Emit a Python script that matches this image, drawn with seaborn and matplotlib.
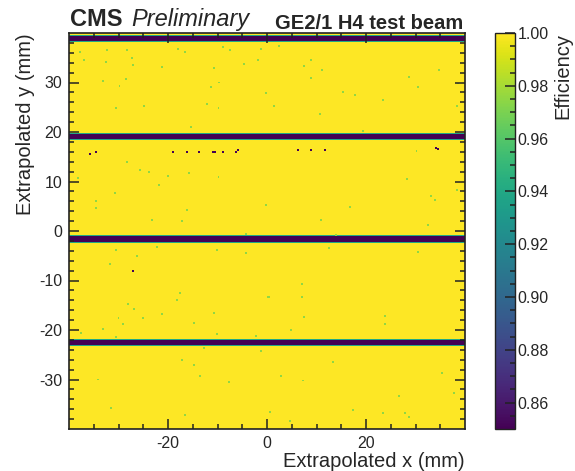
import numpy as np
import pandas as pd
import matplotlib
matplotlib.use("Agg")
import matplotlib.pyplot as plt
import seaborn as sns

# ---------------- data (mm / efficiency) ----------------
x_edges_mm = (-40.0, 40.0)
y_edges_mm = (-40.0, 40.0)
bin_mm = 0.2

# inefficient horizontal gaps between readout sectors
band_center_y = [38.9, 19.15, -1.6, -22.5]
band_half_width = [0.5, 0.5, 0.55, 0.55]
band_eff = [0.80, 0.80, 0.80, 0.80]
band_edge_eff = [0.94, 0.94, 0.94, 0.94]

# dark (inefficient) isolated spots
dead_x = [-36.0, -34.8, -19.2, -16.3, -13.9, -11.2, -10.8, -8.9, -6.4, -5.9,
          6.1, 8.7, 11.7, 34.1, 34.5, -27.2]
dead_y = [15.65, 16.2, 16.2, 16.2, 16.2, 16.2, 16.2, 16.2, 16.2, 16.5,
          16.5, 16.5, 16.5, 17.0, 16.7, -7.9]
dead_eff = 0.80

# slightly inefficient (green) isolated spots
spot_x = [-37.9, -32.5, -28.3, -37.1, -32.7, -27.4, -27.2, -21.4, -18.2, -16.6,
          -8.9, -7.5, -11.0, -4.8, -2.0, -1.2, -33.2, -28.5, -30.0, -25.0,
          -30.7, -11.5, -9.7, -12.3, -9.9, -0.2, -15.5, -28.3, -25.7, -23.8,
          -20.1, -16.0, -9.9, -38.2, -21.8, -31.0, -34.7, -34.7, -16.4, -23.4,
          -17.4, -0.3,
          2.4, 8.6, 7.3, 11.1, 8.7, 15.3, 17.8, 23.2, 1.3, 10.6,
          28.6, 30.4, 34.8, 38.5, 38.3, 19.3, 28.1, 30.1, 38.2, 33.1,
          33.9, 16.6, 10.9, 32.5,
          -30.7, -32.0, -26.3, -22.3, -10.4, -4.4, -4.3, -17.6, -18.4, -28.1,
          -26.9, -30.2, -29.1, -25.1, -21.4, -11.0, -14.9, -33.4, -37.6, -30.7,
          -10.4, -2.4, 0.3, -13.0, -1.4, -17.4, -15.0, -13.7, -7.7, -34.4,
          -31.6, -16.6,
          13.9, 12.5, 30.6, 6.9, 6.9, 0.1, 7.4, 23.7, 23.8, 4.7,
          13.3, 2.6, 7.1, 35.2, 26.4, 37.8, 17.3, 23.2, 27.7, 28.6,
          4.5, 0.5]
spot_y = [36.3, 36.7, 36.7, 34.8, 34.2, 35.1, 33.7, 33.4, 36.9, 36.3,
          37.2, 36.8, 33.1, 33.9, 34.7, 36.9, 30.5, 30.8, 29.4, 25.3,
          24.9, 29.2, 30.2, 25.6, 24.9, 27.8, 21.1, 14.1, 12.5, 12.1,
          11.4, 11.9, 11.2, 10.9, 9.3, 7.7, 6.1, 4.7, 4.2, 2.3,
          2.1, 5.3,
          37.5, 34.8, 33.5, 32.6, 31.1, 28.2, 27.5, 26.5, 25.3, 23.7,
          31.4, 29.1, 32.6, 29.9, 25.3, 20.4, 10.6, 16.3, 8.4, 7.1,
          6.3, 5.0, 2.2, 1.2,
          -3.6, -6.5, -4.9, -3.1, -3.6, -4.4, -0.5, -12.5, -13.9, -14.8,
          -15.6, -17.5, -18.6, -17.5, -16.7, -16.5, -18.4, -19.7, -20.4, -21.3,
          -20.8, -21.1, -13.3, -23.4, -24.0, -25.9, -26.9, -29.1, -30.6, -29.9,
          -35.7, -37.1,
          -0.6, -3.3, -4.1, -10.6, -13.3, -13.3, -17.3, -17.0, -18.6, -19.9,
          -26.3, -29.1, -30.1, -28.5, -33.3, -32.8, -36.0, -36.7, -36.7, -37.4,
          -38.2, -36.5]
spot_eff = 0.975

cbar_ticks = [0.86, 0.88, 0.90, 0.92, 0.94, 0.96, 0.98, 1.00]
x_major = [-20, 0, 20]
y_major = [-30, -20, -10, 0, 10, 20, 30]

# ---------------- build efficiency map ----------------
nx = int(round((x_edges_mm[1] - x_edges_mm[0]) / bin_mm))
ny = int(round((y_edges_mm[1] - y_edges_mm[0]) / bin_mm))
xc = x_edges_mm[0] + bin_mm * (np.arange(nx) + 0.5)
yc = y_edges_mm[1] - bin_mm * (np.arange(ny) + 0.5)   # top row first
eff = np.ones((ny, nx))
for c, hw, e, ee in zip(band_center_y, band_half_width, band_eff, band_edge_eff):
    d = np.abs(yc - c)
    eff[(d > hw) & (d <= hw + bin_mm), :] = ee
    eff[d <= hw, :] = e


def cell(px, py):
    i = int(np.clip((px - x_edges_mm[0]) / bin_mm, 0, nx - 1))
    j = int(np.clip((y_edges_mm[1] - py) / bin_mm, 0, ny - 1))
    return i, j


for px, py in zip(spot_x, spot_y):
    i, j = cell(px, py)
    eff[j:j + 2, i:i + 2] = spot_eff
for px, py in zip(dead_x, dead_y):
    i, j = cell(px, py)
    eff[j:j + 2, i:i + 2] = dead_eff

df = pd.DataFrame(eff, index=np.round(yc, 2), columns=np.round(xc, 2))

# ---------------- plot ----------------
sns.set_style("white")
plt.rcParams["font.family"] = ["Liberation Sans", "DejaVu Sans"]

fig = plt.figure(figsize=(5.75, 4.71), dpi=100)
ax = fig.add_axes([69 / 575, 1 - 429 / 471, 396 / 575, 396 / 471])
cax = fig.add_axes([495 / 575, 1 - 429 / 471, 20 / 575, 396 / 471])

sns.heatmap(df, ax=ax, cbar_ax=cax, cmap="viridis", vmin=0.85, vmax=1.0,
            xticklabels=False, yticklabels=False)
ax.set_axisbelow(False)
cax.set_axisbelow(False)
ax.collections[0].set_zorder(0.5)
for axis in (ax.xaxis, ax.yaxis, cax.yaxis):
    axis.set_zorder(10)


def xpos(v):
    return (v - x_edges_mm[0]) / bin_mm


def ypos(v):
    return (y_edges_mm[1] - v) / bin_mm


ax.set_xticks([xpos(v) for v in x_major])
ax.set_xticklabels([str(v) for v in x_major], fontsize=11.5)
ax.set_xticks([xpos(v) for v in range(-35, 40, 5) if v not in x_major], minor=True)
ax.set_yticks([ypos(v) for v in y_major])
ax.set_yticklabels([str(v) for v in y_major], fontsize=11.5)
ax.set_yticks([ypos(v) for v in range(-38, 40, 2) if v not in y_major], minor=True)
ax.tick_params(which="both", direction="in", top=True, right=True,
               bottom=True, left=True, color="#222222", width=1.1)
ax.tick_params(which="major", length=7, pad=5)
ax.tick_params(which="minor", length=3.5)
for s in ax.spines.values():
    s.set_visible(True)
    s.set_color("#222222")
    s.set_linewidth(1.2)
    s.set_zorder(11)

ax.set_xlabel("Extrapolated x (mm)", fontsize=14.5, loc="right", labelpad=1)
ax.set_ylabel("Extrapolated y (mm)", fontsize=14.5, loc="top", labelpad=3)

cb = ax.collections[0].colorbar
cb.outline.set_visible(True)
cb.outline.set_edgecolor("#222222")
cb.outline.set_linewidth(1.0)
cb.set_ticks(cbar_ticks)
cb.set_ticklabels([f"{v:.2f}" for v in cbar_ticks])
cax.set_yticks([0.855 + 0.005 * k for k in range(29)], minor=True)
cax.tick_params(which="both", direction="in", right=True, left=False,
                labelsize=11.5, color="#222222", width=1.1, pad=2)
cax.tick_params(which="major", length=7)
cax.tick_params(which="minor", length=3.5)
cax.yaxis.set_label_position("right")
cax.set_ylabel("Efficiency", fontsize=14.5, loc="top", labelpad=3)

fig.text(70 / 575, 1 - 26 / 471, "CMS", fontsize=17, fontweight="bold", va="baseline")
fig.text(131 / 575, 1 - 26 / 471, "Preliminary", fontsize=17, fontstyle="italic", va="baseline")
fig.text(463 / 575, 1 - 29 / 471, "GE2/1 H4 test beam", fontsize=14.5, fontweight="bold",
         va="baseline", ha="right")

fig.savefig("out.png", dpi=100)
